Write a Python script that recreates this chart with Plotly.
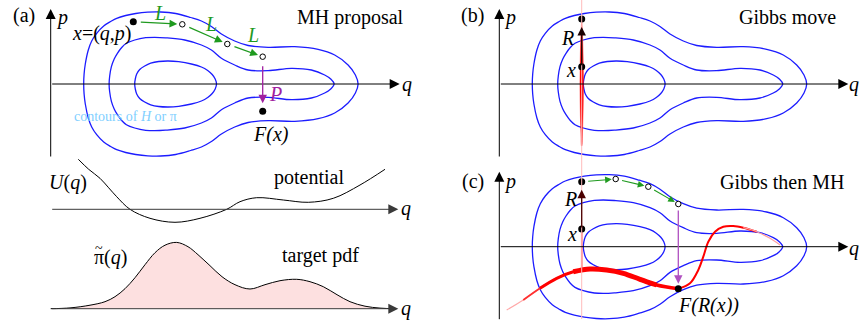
import plotly.graph_objects as go

W, H = 862, 322
SERIF = "Liberation Serif"

# ---------------- data (phase-space units: q right, p up) ----------------
# upper halves of the three drawn contours of H(q,p); lower halves mirror in p
outer_q = [33, 33.4, 34.6, 37.6, 41, 46, 53, 60, 66, 75, 85, 97, 110, 125, 140, 150.7,
           160.7, 170.7, 184, 197.4, 217.4, 244, 267.4, 284, 297.4, 304.7, 307.4]
outer_p = [0, 10, 20, 34, 43, 50.7, 58, 62.5, 65.7, 68.5, 70.5, 71.8, 72, 70.5, 66.5, 63,
           57.5, 50, 43, 38.5, 36.7, 37.3, 34.7, 29, 19, 9, 0]
mid_q = [58.4, 59, 60.7, 63.5, 66.7, 71, 75.7, 84, 95, 104, 115, 134, 150.7, 160.7, 170.7,
         184, 197.4, 217.4, 240.7, 260.7, 274, 280, 283.4]
mid_p = [0, 8, 17.3, 25, 30.7, 36.5, 40.7, 44, 46.3, 46.7, 46.2, 44, 39, 34, 25.7,
         19, 14, 13.3, 15.7, 14, 9, 5, 0]
inner_q = [84, 84.6, 86, 89, 94, 100, 108, 117.4, 128, 140.7, 150.7, 157, 161.5, 164.5, 165.8]
inner_p = [0, 5, 10, 14.5, 18, 20.8, 22.5, 23, 22.3, 20, 17, 13.5, 9.5, 5, 0]

# potential U(q)
pot_q = [27.6, 38, 49.3, 58, 66, 79.3, 99.3, 124.3, 149.3, 176, 189.3, 206, 232.6, 257.6,
         282.6, 309.3, 334.3]
pot_u = [50, 40, 31, 21.5, 12.6, 0, -9, -13, -9, 0, 7.6, 11.6, 9.3, 7, 11, 24.3, 40]

# target pdf pi~(q)
pdf_q = [0, 19.3, 39.3, 54.3, 64.3, 74.3, 84.3, 94.3, 104.3, 114.3, 126, 137.3, 147.3,
         159.3, 171.3, 184.3, 199.3, 214.3, 229.3, 246, 259.3, 272.6, 286.3, 299.3, 314.3,
         329.3, 344.3]
pdf_v = [0, 0.8, 3.5, 7, 12, 20, 31, 44, 56, 63.5, 66.3, 62, 54, 43, 32, 24, 19.7, 24, 28,
         29.4, 27, 22, 14, 7, 2.5, 0.6, 0]

# (a) MH proposal: start x, leapfrog points, flipped end point
mh_q = [82.6, 131.6, 176.6, 212]
mh_p = [62.3, 59.7, 40, 27.3]
fx_q, fx_p = 212, -27.3

# (b) Gibbs move: momentum refresh along q = const, gaussian density of p
gq = 82.4
gx_p, gr_p = 17.3, 65
gauss_p = [62, 48, 32, 16, 0, -16, -32, -48, -62]
gauss_w = [0.15, 0.8, 1.3, 1.6, 1.75, 1.6, 1.3, 0.8, 0.15]

# (c) Gibbs then MH
cx_p, cr_p = 17.7, 65
cmh_q = [82.4, 116.4, 149, 179]
cmh_p = [65, 67.7, 60, 42.7]
cf_q, cf_p = 179, -42
red_q = [7.4, 24, 40.7, 57.4, 74, 90.7, 107.4, 124, 140.7, 157.4, 179, 190.7, 199, 204, 209,
         215.7, 224, 234, 244, 257.4, 270.7, 280.7]
red_p = [-63.3, -53.3, -41.6, -31.6, -25, -22.3, -23.3, -26.6, -32.6, -38.3, -42, -36.6,
         -23.3, -10, 5, 15, 20, 20.7, 19, 15, 8.4, 1.7]

# ---------------- layout of panels (axis origin on page, px) ----------------
panels = {"a": ("", 50.7, 84), "u": ("2", 50.7, 209.3), "pi": ("3", 50.7, 308.7),
          "b": ("4", 499.3, 84), "c": ("5", 499.3, 246.7)}

fig = go.Figure()
layout = dict(width=W, height=H, margin=dict(l=0, r=0, t=0, b=0), showlegend=False,
              paper_bgcolor="white", plot_bgcolor="rgba(0,0,0,0)")
for key, (s, ox, oy) in panels.items():
    layout["xaxis" + s] = dict(range=[-ox, W - ox], domain=[0, 1], visible=False,
                               fixedrange=True, anchor="y" + s)
    layout["yaxis" + s] = dict(range=[-(H - oy), oy], domain=[0, 1], visible=False,
                               fixedrange=True, anchor="x" + s)
fig.update_layout(**layout)


def ax(key):
    s = panels[key][0]
    return dict(xaxis="x" + s, yaxis="y" + s)


def closed(qs, ps):
    pts = list(zip(qs, ps)) + [(q, -p) for q, p in zip(qs[::-1], ps[::-1])][1:-1]
    i = max(range(len(pts)), key=lambda k: pts[k][1])
    pts = pts[i:] + pts[:i]
    pts.append(pts[0])
    return [a for a, b in pts], [b for a, b in pts]


BLUE = "#1c1cff"
for key in ["a", "b", "c"]:
    for qs, ps in [(outer_q, outer_p), (mid_q, mid_p), (inner_q, inner_p)]:
        cq, cp = closed(qs, ps)
        fig.add_trace(go.Scatter(x=cq, y=cp, mode="lines", line=dict(color=BLUE, width=1.3,
                                 shape="spline"), hoverinfo="skip", **ax(key)))

# potential and pdf
fig.add_trace(go.Scatter(x=pot_q, y=pot_u, mode="lines", line=dict(color="black", width=1,
                         shape="spline"), hoverinfo="skip", **ax("u")))
fig.add_trace(go.Scatter(x=pdf_q, y=pdf_v, mode="lines", fill="tozeroy", fillcolor="#fde0e0",
                         line=dict(color="black", width=1, shape="spline"), hoverinfo="skip",
                         **ax("pi")))

# faint vertical line through (b) and (c)
fig.add_shape(type="line", xref="x4", yref="paper", x0=gq, x1=gq, y0=1 - 319 / H, y1=1,
              line=dict(color="#ffbcbc", width=1))

# (b) gaussian of p drawn along the line
gx = [gq - w for w in gauss_w] + [gq + w for w in gauss_w[::-1]]
gy = gauss_p + gauss_p[::-1]
fig.add_trace(go.Scatter(x=gx, y=gy, mode="lines", fill="toself", fillcolor="#ff0000",
                         line=dict(color="#ff0000", width=0.4, shape="spline"),
                         hoverinfo="skip", **ax("b")))

# (c) red curve with varying thickness
segs = [(0, 2, 1.2, "#ffa8a8"), (1, 4, 1.8, "#ff3030"), (2, 5, 3, "#ff0000"),
        (4, 9, 5, "#ff0000"), (8, 10, 3.6, "#ff0000"), (10, 19, 2, "#ff0000"),
        (18, 21, 1.2, "#ffa0a0")]
fig.add_trace(go.Scatter(x=[gq, gq], y=[cx_p, -22.5], mode="lines",
                         line=dict(color="#ff3a3a", width=1.5), hoverinfo="skip", **ax("c")))
for a, b, w, col in segs:
    fig.add_trace(go.Scatter(x=red_q[a:b + 1], y=red_p[a:b + 1], mode="lines",
                             line=dict(color=col, width=w, shape="spline"), hoverinfo="skip",
                             **ax("c")))


# points
def dots(key, qs, ps):
    fig.add_trace(go.Scatter(x=qs, y=ps, mode="markers", hoverinfo="skip",
                             marker=dict(size=7, color="black"), **ax(key)))


def rings(key, qs, ps):
    fig.add_trace(go.Scatter(x=qs, y=ps, mode="markers", hoverinfo="skip",
                             marker=dict(size=5.5, color="white",
                                         line=dict(color="black", width=1)), **ax(key)))


dots("a", [mh_q[0], fx_q], [mh_p[0], fx_p])
rings("a", mh_q[1:], mh_p[1:])
dots("b", [gq, gq], [gx_p, gr_p])
dots("c", [gq, gq, cf_q], [cx_p, cr_p, cf_p])
rings("c", cmh_q[1:], cmh_p[1:])

# ---------------- arrows ----------------
ann = []


def arrow(key, x0, y0, x1, y1, color, width=1.2, size=1.4, s0=0, s1=0):
    s = panels[key][0]
    ann.append(dict(x=x1, y=y1, ax=x0, ay=y0, xref="x" + s, yref="y" + s, axref="x" + s,
                    ayref="y" + s, showarrow=True, arrowhead=2, arrowsize=size,
                    arrowwidth=width, arrowcolor=color, standoff=s1, startstandoff=s0,
                    text=""))


# coordinate axes
for key in ["a", "b", "c"]:
    arrow(key, 0, -74, 0, 75, "black", 1, 2)
    arrow(key, 0, 0, 349, 0, "black", 1, 2)
arrow("u", 0, 0, 347.6, 0, "#3a3a3a", 1, 2)
arrow("pi", 0, 0, 347.6, 0, "#3a3a3a", 1, 2)

GREEN = "#1f9a1f"
PURPLE = "#a020a0"
for i in range(3):
    arrow("a", mh_q[i], mh_p[i], mh_q[i + 1], mh_p[i + 1], GREEN, 1.2, 1.3, 6, 5)
    arrow("c", cmh_q[i], cmh_p[i], cmh_q[i + 1], cmh_p[i + 1], GREEN, 1.1, 1.2, 5, 4)
arrow("a", fx_q, mh_p[3], fx_q, fx_p, PURPLE, 1.3, 1.3, 8, 8)
arrow("c", cf_q, cmh_p[3], cf_q, cf_p, "#b050c0", 1.3, 1.3, 5, 5)
arrow("b", gq, gx_p, gq, gr_p, "#1a0000", 1.3, 1.3, 0, 8)
arrow("c", gq, cx_p, gq, cr_p, "#4a0000", 1.3, 1.3, 0, 8)


# ---------------- text ----------------
def label(px, py, text, size=20, color="black"):
    ann.append(dict(x=px / W, y=1 - py / H, xref="paper", yref="paper", text=text,
                    showarrow=False, xanchor="center", yanchor="middle",
                    font=dict(family=SERIF, size=size, color=color)))


label(24.2, 16, "(a)")
label(61.7, 17, "<i>p</i>")
label(407.3, 84, "<i>q</i>")
label(101.7, 33, "<i>x</i>=(<i>q</i>,<i>p</i>)")
label(350.7, 17, "MH proposal")
label(160, 13, "<i>L</i>", color=GREEN)
label(210.7, 24, "<i>L</i>", color=GREEN)
label(253.3, 35, "<i>L</i>", color=GREEN)
label(275, 94, "<i>P</i>", color=PURPLE)
label(271.2, 134, "<i>F(x)</i>")
label(125.7, 117, "contours of <i>H</i> or π", 14, "#7fcfff")
label(68.3, 182, "<i>U</i>(<i>q</i>)")
label(309, 177, "potential")
label(406, 209, "<i>q</i>")
label(110, 257, "π(<i>q</i>)")
label(98.8, 248.5, "~", 14)
label(320, 256, "target pdf")
label(406, 308, "<i>q</i>")
label(472.7, 16, "(b)")
label(510, 17, "<i>p</i>")
label(787.3, 17, "Gibbs move")
label(854, 84, "<i>q</i>")
label(567.3, 38, "<i>R</i>")
label(571, 70, "<i>x</i>")
label(472.7, 181, "(c)")
label(510, 181, "<i>p</i>")
label(781.7, 182, "Gibbs then MH")
label(854, 248, "<i>q</i>")
label(570, 199, "<i>R</i>")
label(571.7, 234, "<i>x</i>")
label(708.3, 305, "<i>F(R(x))</i>")

fig.update_layout(annotations=ann)
fig.write_html("out.html", config={"displayModeBar": False},
               post_script="document.body.style.margin='0';"
               "document.body.style.overflow='hidden';")
